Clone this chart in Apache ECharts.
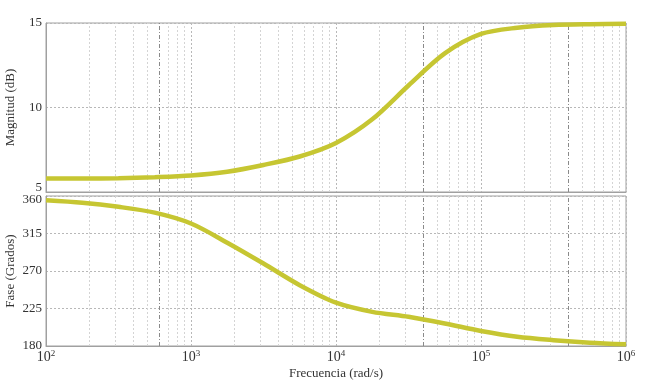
<!DOCTYPE html>
<html>
<head>
<meta charset="utf-8">
<script src="https://cdn.jsdelivr.net/npm/echarts@6/dist/echarts.min.js"></script>
<style>html,body{margin:0;padding:0;background:#fff}#c{width:650px;height:381px}</style>
</head>
<body>
<div id="c"></div>
<script>
var freqs = [100, 178, 316, 562, 1000, 1778, 3162, 5623, 10000, 17783, 31623, 56234, 100000, 177828, 316228, 562341, 1000000];
var magnitude = [5.8, 5.8, 5.82, 5.88, 5.98, 6.2, 6.6, 7.1, 7.9, 9.3, 11.3, 13.2, 14.35, 14.72, 14.88, 14.93, 14.95];
var phase = [355, 352, 347, 340, 327, 304, 279, 253, 232, 221, 215, 207, 198, 191, 187, 184, 182];
var minorGridFreqs = [200,300,400,500,700,800,900,2000,3000,4000,5000,6000,7000,8000,9000,20000,30000,50000,60000,70000,80000,90000,200000,300000,500000,600000,700000,800000,900000];
var darkGridFreqs = [600, 40000, 400000];
var magTicks = [5, 10, 15];
var phaseTicks = [180, 225, 270, 315, 360];

var FONT = 'Liberation Serif';
function pairs(ys){ return freqs.map(function(f,i){ return [f, ys[i]]; }); }
function gridMarks(){
  return {
    silent: true, symbol: 'none', animation: false,
    label: {show: false},
    data: minorGridFreqs.map(function(f){ return {xAxis: f, lineStyle: {color: '#d4d4d4', type: [2,2], width: 1}}; })
      .concat(darkGridFreqs.map(function(f){ return {xAxis: f, lineStyle: {color: '#8a8a8a', type: [4,2,1,2], width: 1}}; }))
  };
}
var xBase = {
  type: 'log', logBase: 10, min: 100, max: 1000000,
  axisLine: {show: true, onZero: false, lineStyle: {color: '#a0a0a0'}},
  axisTick: {show: false},
  splitLine: {show: true, lineStyle: {color: '#b8b8b8', type: [2,2]}}
};
var chart = echarts.init(document.getElementById('c'), null, {renderer: 'canvas'});
chart.setOption({
  backgroundColor: '#fff',
  animation: false,
  grid: [
    {left: 46, right: 24, top: 23, height: 169, show: true, borderColor: '#a0a0a0', borderWidth: 1, containLabel: false, outerBoundsMode: 'none'},
    {left: 46, right: 24, top: 196, height: 150, show: true, borderColor: '#a0a0a0', borderWidth: 1, containLabel: false, outerBoundsMode: 'none'}
  ],
  xAxis: [
    Object.assign({gridIndex: 0, axisLabel: {show: false}}, xBase),
    Object.assign({gridIndex: 1,
      name: 'Frecuencia (rad/s)', nameLocation: 'middle', nameGap: 21,
      nameTextStyle: {fontFamily: FONT, fontSize: 13, color: '#333'},
      axisLabel: {
        margin: 3,
        formatter: function(v){ return '{b|10}{s|' + Math.round(Math.log10(v)) + '}'; },
        rich: {
          b: {fontFamily: FONT, fontSize: 14, color: '#333'},
          s: {fontFamily: FONT, fontSize: 9, color: '#333', verticalAlign: 'top', padding: [0,0,8,0]}
        }
      }}, xBase)
  ],
  yAxis: [
    {gridIndex: 0, type: 'value', min: 5, max: 15, interval: 5,
     name: 'Magnitud (dB)', nameLocation: 'middle', nameGap: 29, nameMoveOverlap: false,
     nameTextStyle: {fontFamily: FONT, fontSize: 13, color: '#333'},
     axisLine: {show: true, lineStyle: {color: '#a0a0a0'}}, axisTick: {show: false},
     splitLine: {show: true, lineStyle: {color: '#b8b8b8', type: [2,2]}},
     axisLabel: {margin: 4, formatter: function(v){ return v === magTicks[0] ? '{lo|' + v + '}' : '{n|' + v + '}'; },
       rich: {n: {fontFamily: FONT, fontSize: 13, color: '#333'}, lo: {fontFamily: FONT, fontSize: 13, color: '#333', padding: [0,0,9,0]}}}
    },
    {gridIndex: 1, type: 'value', min: 180, max: 360, interval: 45,
     name: 'Fase (Grados)', nameLocation: 'middle', nameGap: 29, nameMoveOverlap: false,
     nameTextStyle: {fontFamily: FONT, fontSize: 13, color: '#333'},
     axisLine: {show: true, lineStyle: {color: '#a0a0a0'}}, axisTick: {show: false},
     splitLine: {show: true, lineStyle: {color: '#b8b8b8', type: [2,2]}},
     axisLabel: {margin: 4, formatter: function(v){ return v === phaseTicks[phaseTicks.length-1] ? '{hi|' + v + '}' : '{n|' + v + '}'; },
       rich: {n: {fontFamily: FONT, fontSize: 13, color: '#333'}, hi: {fontFamily: FONT, fontSize: 13, color: '#333', padding: [8,0,0,0]}}}
    }
  ],
  series: [
    {type: 'line', xAxisIndex: 0, yAxisIndex: 0, data: pairs(magnitude), smooth: 0.3, showSymbol: false,
     lineStyle: {color: '#c6c632', width: 4.5}, markLine: gridMarks(), z: 5},
    {type: 'line', xAxisIndex: 1, yAxisIndex: 1, data: pairs(phase), smooth: 0.3, showSymbol: false,
     lineStyle: {color: '#c6c632', width: 4.5}, markLine: gridMarks(), z: 5}
  ]
});
</script>
</body>
</html>
